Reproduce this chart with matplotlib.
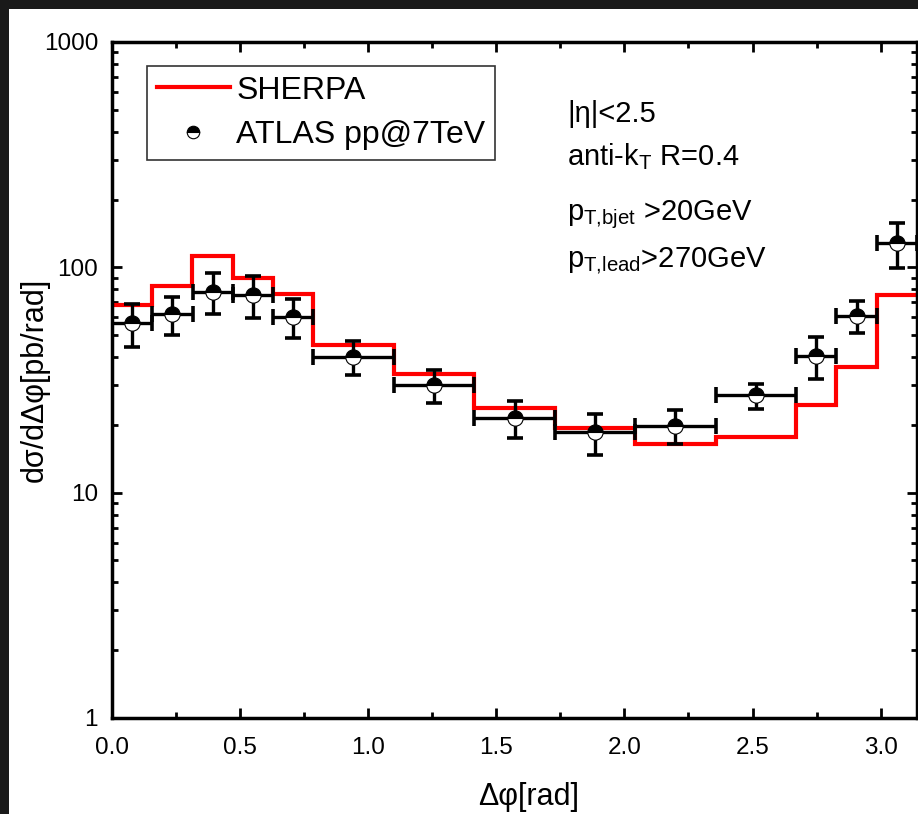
import numpy as np
import matplotlib
matplotlib.use("Agg")
import matplotlib.pyplot as plt
from matplotlib.lines import Line2D
from matplotlib.patches import Rectangle
from matplotlib.ticker import FixedLocator, FixedFormatter, MultipleLocator, LogLocator, NullFormatter

# bin edges in delta phi (pi/20 and pi/10 wide bins)
edges = [0.0, 0.157, 0.314, 0.471, 0.628, 0.785, 1.100, 1.414,
         1.728, 2.042, 2.356, 2.670, 2.827, 2.985, 3.142]

# SHERPA prediction per bin [pb/rad]
sherpa = [68, 83, 112, 90, 76, 45, 33.5, 23.8, 19.4, 16.5, 17.6, 24.5, 36.3, 75.5]

# ATLAS data points
atlas_x = [0.079, 0.236, 0.393, 0.550, 0.707, 0.942, 1.257, 1.571,
           1.885, 2.199, 2.513, 2.749, 2.906, 3.063]
atlas_xerr = [0.0785, 0.0785, 0.0785, 0.0785, 0.0785, 0.157, 0.157, 0.157,
              0.157, 0.157, 0.157, 0.0785, 0.0785, 0.0785]
atlas_y = [56.5, 62, 78, 75.5, 60.5, 40.2, 30, 21.5, 18.5, 19.8, 27, 40.5, 61, 128]
atlas_yerr = [12, 12, 16, 16, 12, 7, 5, 4, 3.8, 3.4, 3.5, 8.6, 10, 29]

ytick_vals = [1, 10, 100, 1000]
ytick_labels = ["1", "10", "100", "1000"]

cuts = ["|η|<2.5",
        r"anti-k$_\mathrm{T}$ R=0.4",
        r"p$_\mathrm{T{,}bjet}$ >20GeV",
        r"p$_\mathrm{T{,}lead}$>270GeV"]

plt.rcParams["font.family"] = ["Liberation Sans", "DejaVu Sans"]
plt.rcParams["mathtext.fontset"] = "custom"
plt.rcParams["mathtext.rm"] = "Liberation Sans"
plt.rcParams["mathtext.it"] = "Liberation Sans:italic"

W, H = 918, 814
fig = plt.figure(figsize=(W / 100, H / 100), dpi=100, facecolor="#1a1a1a")
fig.patches.append(Rectangle((9 / W, 0), 1, 1 - 9 / H, transform=fig.transFigure,
                             facecolor="white", edgecolor="none", zorder=-10))

ax = fig.add_axes([112 / W, 1 - 718 / H, (917 - 112) / W, (718 - 42) / H])

ax.stairs(sherpa, edges, baseline=None, color="#ff0000", lw=3, zorder=2)

ax.errorbar(atlas_x, atlas_y, xerr=atlas_xerr, yerr=atlas_yerr, fmt="none",
            ecolor="black", elinewidth=2.4, capsize=5.5, capthick=2.6, zorder=3)
ax.plot(atlas_x, atlas_y, ls="none", marker="o", ms=11, fillstyle="top",
        markerfacecolor="black", markerfacecoloralt="white",
        markeredgecolor="black", mew=0.8, zorder=4)

ax.set_yscale("log")
ax.set_ylim(1, 1000)
ax.set_xlim(0, 3.142)

ax.yaxis.set_major_locator(FixedLocator(ytick_vals))
ax.yaxis.set_major_formatter(FixedFormatter(ytick_labels))
ax.yaxis.set_minor_locator(LogLocator(base=10, subs=np.arange(2, 10)))
ax.yaxis.set_minor_formatter(NullFormatter())
ax.xaxis.set_major_locator(MultipleLocator(0.5))
ax.xaxis.set_minor_locator(MultipleLocator(0.25))
ax.xaxis.set_major_formatter(matplotlib.ticker.FormatStrFormatter("%.1f"))

ax.tick_params(which="both", direction="in", top=True, right=True, width=2)
ax.tick_params(which="major", length=7.5)
ax.tick_params(which="minor", length=4.5)
ax.tick_params(axis="x", labelsize=17.5, pad=14)
ax.tick_params(axis="y", labelsize=17.5, pad=10)
for s in ax.spines.values():
    s.set_linewidth(2.5)

ax.set_xlabel("Δφ[rad]", fontsize=22)
ax.set_ylabel("dσ/dΔφ[pb/rad]", fontsize=22)
ax.xaxis.set_label_coords((529 - 112) / 806, (718 - 782) / 676)
ax.yaxis.set_label_coords((50 - 112) / 806, 0.5)

handles = [Line2D([], [], color="#ff0000", lw=3),
           Line2D([], [], ls="none", marker="o", ms=9, fillstyle="top",
                  markerfacecolor="black", markerfacecoloralt="white",
                  markeredgecolor="black", mew=0.8)]
leg = ax.legend(handles, ["SHERPA", "ATLAS pp@7TeV"], loc="upper left",
                bbox_to_anchor=((147 - 112) / 806, (718 - 66) / 676),
                borderaxespad=0, fontsize=23, frameon=True, fancybox=False,
                handlelength=2.3, handletextpad=0.2, labelspacing=0.45,
                borderpad=0.3)
leg.get_frame().set_edgecolor("black")
leg.get_frame().set_linewidth(1.2)

base_px = [122, 165, 220, 268]
for txt, yp in zip(cuts, base_px):
    ax.text((568 - 112) / 806, (718 - yp) / 676, txt, transform=ax.transAxes,
            fontsize=21, ha="left", va="baseline")

fig.savefig("out.png", dpi=100, facecolor=fig.get_facecolor())
